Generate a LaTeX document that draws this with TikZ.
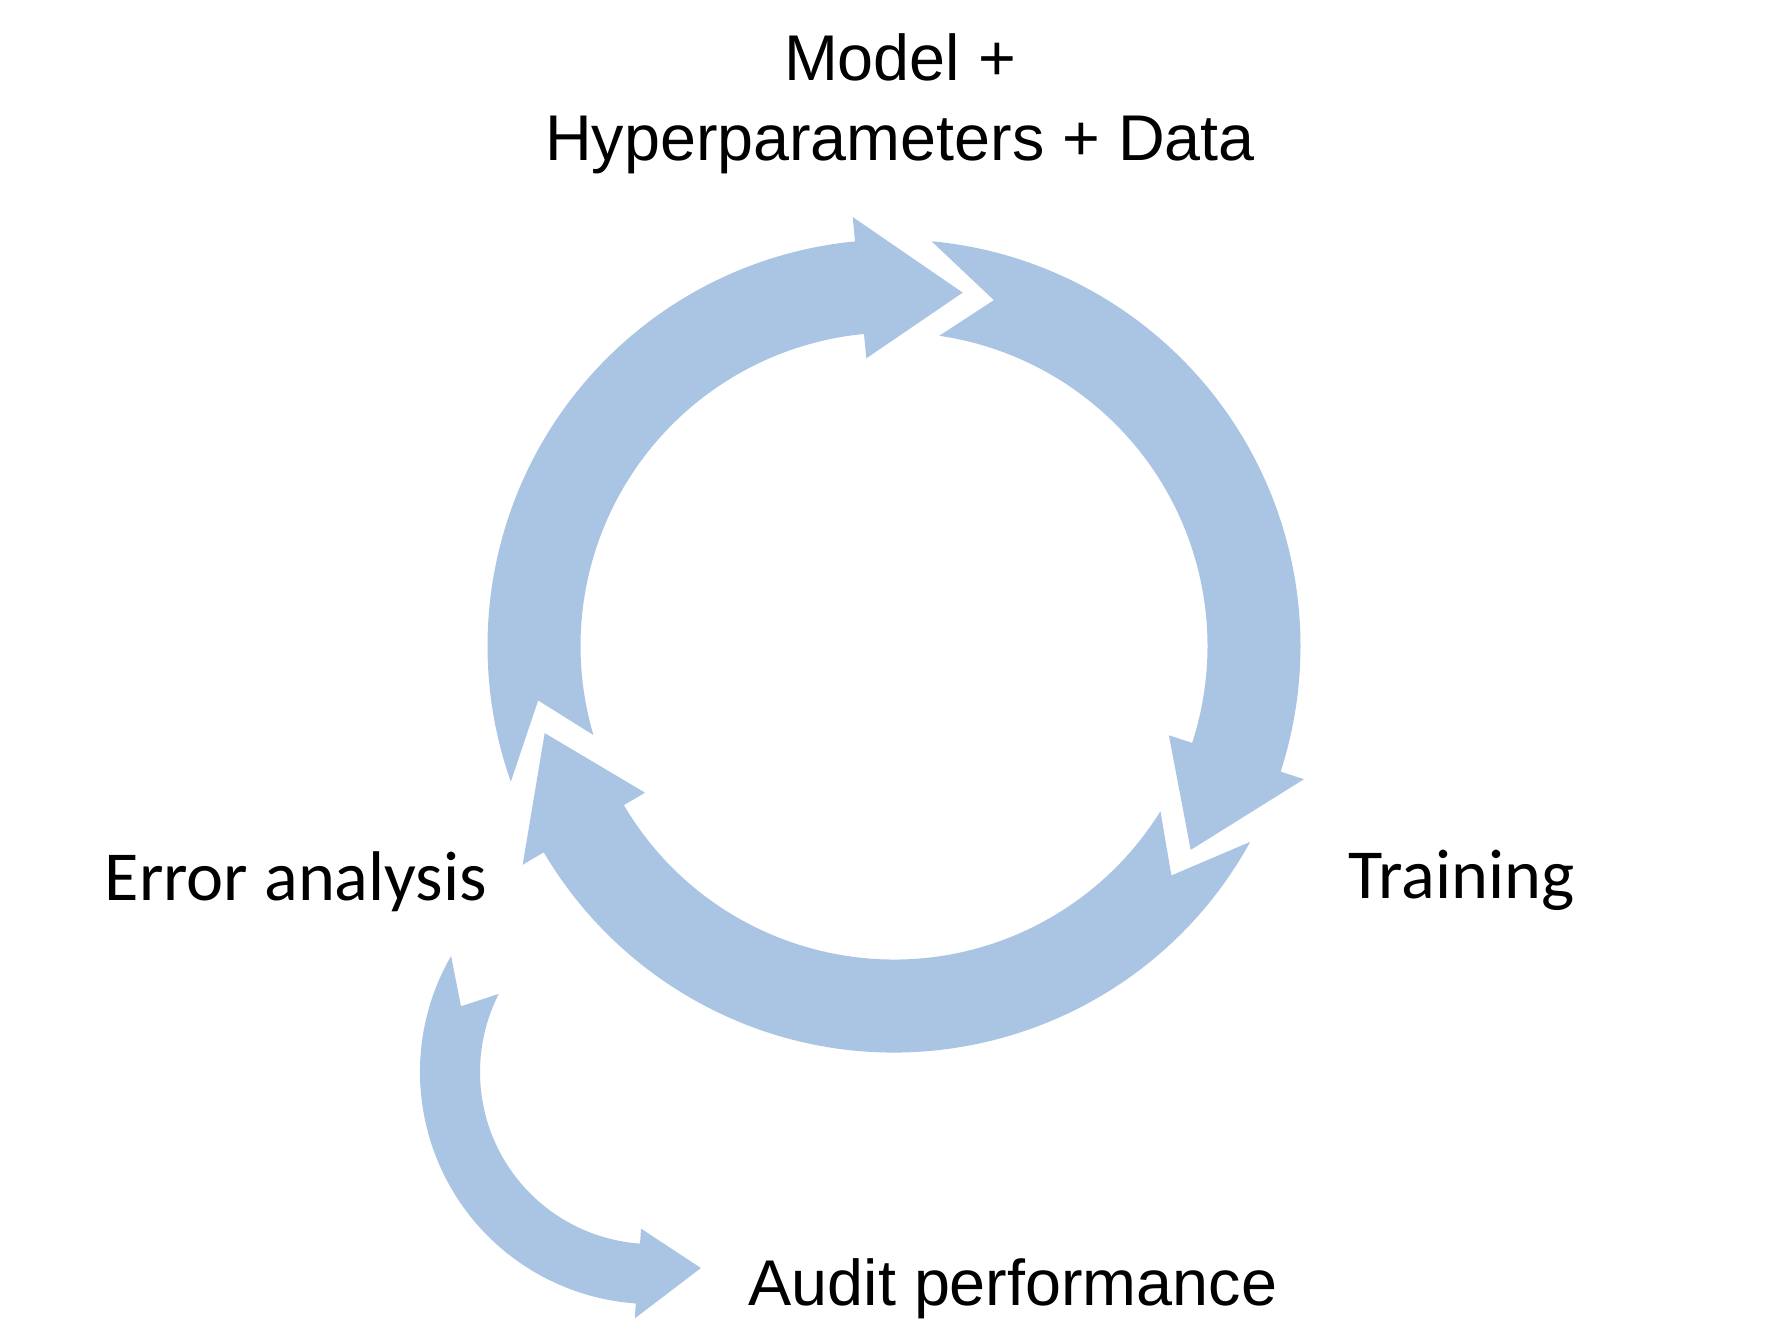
\documentclass[tikz,border=0pt]{standalone}
\usepackage{fontspec}
\setmainfont{Liberation Sans}
\newfontfamily\calibrifont{Carlito}
\usetikzlibrary{positioning}
\definecolor{cycleblue}{RGB}{170,197,228}

\tikzset{
  cyclefill/.style={fill=cycleblue},
  helvlabel/.style={font=\fontsize{18.4}{22}\selectfont,inner sep=0pt,anchor=base},
  calilabel/.style={font=\calibrifont\fontsize{20}{24}\selectfont,inner sep=0pt,anchor=base west}
}

% #1 tail angle, #2 tip angle, #3 turn (+1 ccw, -1 cw)
\newcommand{\cyclearrow}[3]{%
  \fill[cyclefill] ({#1-1.5*#3}:{\midr+\bandw})
    arc[start angle={#1-1.5*#3},end angle={#2-\headl*#3},radius={\midr+\bandw}]
    -- ({#2-\headl*#3}:{\midr+\headw}) -- (#2:\midr) -- ({#2-\headl*#3}:{\midr-\headw})
    -- ({#2-\headl*#3}:{\midr-\bandw})
    arc[start angle={#2-\headl*#3},end angle={#1+1.5*#3},radius={\midr-\bandw}]
    -- ({#1+\notchd*#3}:\midr) -- cycle;}

\begin{document}
\begin{tikzpicture}
  \fill[white] (0,0) rectangle (17.70,13.38);
  \useasboundingbox (0,0) rectangle (17.70,13.38);

  % big cycle
  \coordinate (ringc) at (8.94,6.92);
  \begin{scope}[shift={(ringc)}]
    \def\midr{3.6}\def\bandw{0.465}\def\headw{0.71}\def\headl{16.5}\def\notchd{9.3}
    \cyclearrow{198}{79}{-1}
    \cyclearrow{83.2}{-34.5}{-1}
    \cyclearrow{329.7}{194}{-1}
  \end{scope}

  % way out of the cycle
  \coordinate (auditc) at (6.52,2.66);
  \begin{scope}[shift={(auditc)}]
    \def\midr{2.02}\def\bandw{0.30}\def\headw{0.45}\def\headl{18}\def\notchd{9.5}
    \cyclearrow{151.5}{284}{1}
  \end{scope}

  \node[helvlabel] (modeltxt) at (9.00,12.57) {Model +};
  \node[helvlabel] (hypertxt) at (9.00,11.78) {Hyperparameters + Data};
  \node[calilabel] (errortxt) at (1.04,4.38) {Error analysis};
  \node[calilabel] (traintxt) at (13.48,4.40) {Training};
  \node[helvlabel,anchor=base west] (audittxt) at (7.48,0.33) {Audit performance};
\end{tikzpicture}
\end{document}
